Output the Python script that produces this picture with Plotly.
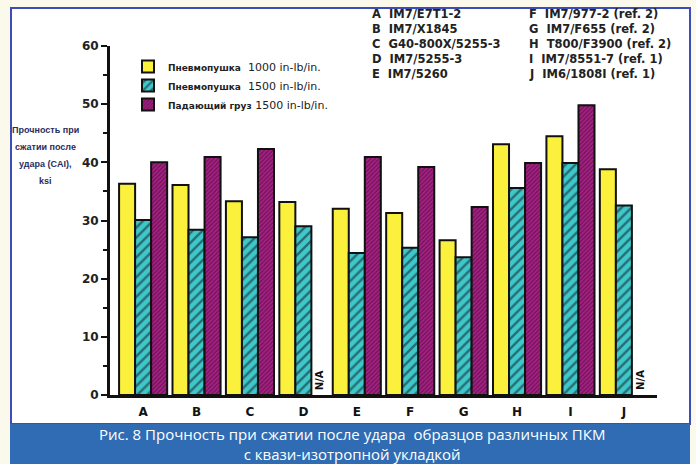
import plotly.graph_objects as go

# Compression-after-impact strength, ksi, by material system
materials = ["A", "B", "C", "D", "E", "F", "G", "H", "I", "J"]
cai_air_1000 = [36.3, 36.1, 33.3, 33.2, 32.0, 31.3, 26.6, 43.1, 44.5, 38.8]
cai_air_1500 = [30.1, 28.4, 27.1, 29.0, 24.4, 25.3, 23.7, 35.6, 39.9, 32.6]
cai_drop_1500 = [40.0, 40.9, 42.3, None, 40.9, 39.2, 32.3, 39.9, 49.8, None]

series_names = [
    "<span style='font-size:9px'><b>Пневмопушка</b></span>  1000 in-lb/in.",
    "<span style='font-size:9px'><b>Пневмопушка</b></span>  1500 in-lb/in.",
    "<span style='font-size:9px'><b>Падающий груз</b></span> 1500 in-lb/in.",
]

material_key_left = ["A  IM7/E7T1-2", "B  IM7/X1845", "C  G40-800X/5255-3",
                     "D  IM7/5255-3", "E  IM7/5260"]
material_key_right = ["F  IM7/977-2 (ref. 2)", "G  IM7/F655 (ref. 2)",
                      "H  T800/F3900 (ref. 2)", "I  IM7/8551-7 (ref. 1)",
                      "J  IM6/1808I (ref. 1)"]

y_title_lines = ["Прочность при", "сжатии после", "удара (CAI),", "ksi"]
caption_lines = ["Рис. 8 Прочность при сжатии после удара  образцов различных ПКМ",
                 "с квази-изотропной укладкой"]

FONT = "DejaVu Sans, Liberation Sans, sans-serif"
YELLOW = "#fbf03c"
CYAN = "#3ec8cc"
MAGENTA = "#a82185"

# Page geometry in pixels
W, H = 696, 464
L, R, T, B = 110, 39, 46, 69
pw, ph = W - L - R, H - T - B


def px(xp, yp):
    """Page pixel position -> paper fraction."""
    return (xp - L) / pw, (H - B - yp) / ph


fig = go.Figure()
fig.add_bar(x=materials, y=cai_air_1000, name=series_names[0],
            marker=dict(color=YELLOW, line=dict(color="#111", width=2)))
fig.add_bar(x=materials, y=cai_air_1500, name=series_names[1],
            marker=dict(color=CYAN, line=dict(color="#111", width=2),
                        pattern=dict(shape="/", fillmode="overlay",
                                     fgcolor="#111", bgcolor=CYAN,
                                     size=7, solidity=0.35)))
fig.add_bar(x=materials, y=cai_drop_1500, name=series_names[2],
            marker=dict(color=MAGENTA, line=dict(color="#111", width=2),
                        pattern=dict(shape="/", fillmode="overlay",
                                     fgcolor="#3a0830", bgcolor=MAGENTA,
                                     size=3, solidity=0.45)))

# "N/A" markers where the drop-weight result is missing
for m, v in zip(materials, cai_drop_1500):
    if v is None:
        fig.add_annotation(x=m, y=0, xref="x", yref="y", text="<b>N/A</b>",
                           textangle=-90, showarrow=False, xshift=16,
                           yanchor="bottom", yshift=3,
                           font=dict(family=FONT, size=10, color="#111"))

# Material key in two columns
for col_x, col in ((370, material_key_left), (527, material_key_right)):
    for i, t in enumerate(col):
        ax, ay = px(col_x, 14 + i * 15)
        fig.add_annotation(x=ax, y=ay, xref="paper", yref="paper",
                           text=f"<b>{t}</b>", showarrow=False,
                           xanchor="left", yanchor="middle",
                           font=dict(family=FONT, size=11.5, color="#222"))

# Axis title, stacked at the left
for i, t in enumerate(y_title_lines):
    ax, ay = px(45, 130 + i * 17)
    fig.add_annotation(x=ax, y=ay, xref="paper", yref="paper",
                       text=f"<b>{t}</b>", showarrow=False,
                       xanchor="center", yanchor="middle",
                       font=dict(family="Liberation Sans, Arial, sans-serif",
                                 size=9, color="#2b2b5e"))

# Caption text in the blue band
ax, ay = px(352, 444)
fig.add_annotation(x=ax, y=ay, xref="paper", yref="paper",
                   text="<br>".join(caption_lines),
                   showarrow=False, xanchor="center", yanchor="middle",
                   font=dict(family="Open Sans, sans-serif", size=15,
                             color="white"))


# Frame: white panel with blue border, and blue caption band
def px_rect(x0, y0, x1, y1, **kw):
    fx0, fy1 = px(x0, y0)
    fx1, fy0 = px(x1, y1)
    fig.add_shape(type="rect", xref="paper", yref="paper",
                  x0=fx0, x1=fx1, y0=fy0, y1=fy1, **kw)


px_rect(11, 8, 690, 424, fillcolor="white", line=dict(color="#3d4cb8", width=2),
        layer="below")
px_rect(10, 424, 690, 470, fillcolor="#2f6cb3", line=dict(width=0),
        layer="above")

lx, ly = px(128, 52)
fig.update_layout(
    width=W, height=H,
    margin=dict(l=L, r=R, t=T, b=B),
    paper_bgcolor="#fbf9ec",
    plot_bgcolor="rgba(0,0,0,0)",
    barmode="group", bargap=0.1, bargroupgap=0,
    showlegend=True,
    legend=dict(x=lx, y=ly, xanchor="left", yanchor="top",
                bgcolor="rgba(0,0,0,0)",
                font=dict(family=FONT, size=11, color="#222"),
                tracegroupgap=0, itemwidth=30),
    xaxis=dict(range=[-0.62, 9.62], showline=True, linecolor="#111",
               linewidth=3, ticks="", showgrid=False, zeroline=False,
               tickfont=dict(family=FONT, size=12, color="#111",
                             weight="bold"),
               ticklabelstandoff=4),
    yaxis=dict(range=[0, 60], showline=True, linecolor="#111", linewidth=3,
               tickvals=[0, 10, 20, 30, 40, 50, 60], ticks="outside",
               ticklen=6, tickwidth=2, tickcolor="#111",
               minor=dict(tickvals=[5, 15, 25, 35, 45, 55], ticks="outside",
                          ticklen=4, tickwidth=1.5, tickcolor="#111"),
               showgrid=False, zeroline=False,
               tickfont=dict(family=FONT, size=12, color="#222",
                             weight="bold")),
    font=dict(family=FONT),
)

fig.write_html("out.html")
